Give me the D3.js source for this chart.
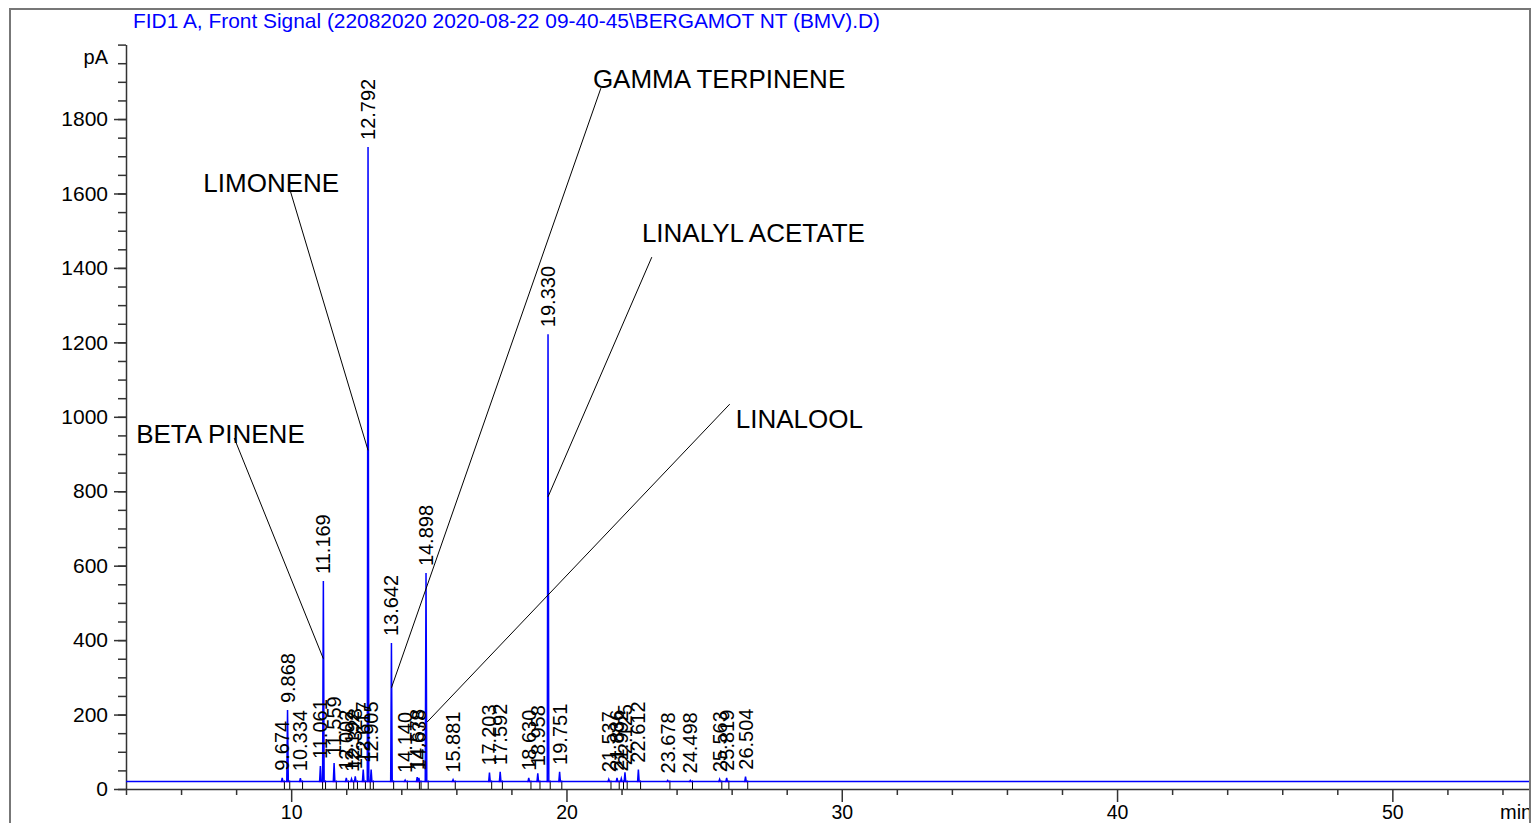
<!DOCTYPE html>
<html lang="en">

<head>
    <meta charset="UTF-8">
    <title>FID1 A, Front Signal</title>
    <style>
        body {
            margin: 0;
            background: #fff;
        }

        svg {
            font-family: "Liberation Sans", Arial, sans-serif;
        }

        .axis text {
            font-size: 21px;
            fill: #000;
        }

        .axis.xaxis text {
            font-size: 19.5px;
        }

        .axis path,
        .axis line {
            stroke: #333;
            stroke-width: 1.5px;
        }

        .trace {
            fill: none;
            stroke: #0000ff;
            stroke-width: 1.5px;
        }

        .peak-label {
            font-size: 20px;
        }

        .anno-text {
            font-size: 26px;
        }

        .anno-line {
            stroke: #000;
            stroke-width: 1px;
        }
    </style>
</head>

<body>
    <script src="https://d3js.org/d3.v7.min.js"></script>
    <script>
        // peak table (retention time in min, apex in pA)
        const peakTimes = [9.674, 9.868, 10.334, 11.061, 11.169, 11.559, 12.002, 12.192, 12.328, 12.617,
            12.792, 12.905, 13.642, 14.140, 14.578, 14.638, 14.898, 15.881, 17.203, 17.592,
            18.630, 18.958, 19.330, 19.751, 21.537, 21.836, 21.992, 22.125, 22.612, 23.678,
            24.498, 25.563, 25.819, 26.504];
        const peakHeights = [30, 212, 29, 62, 559, 70, 30, 27, 34, 52,
            1725, 52, 392, 24, 32, 30, 580, 25, 44, 46,
            30, 42, 1222, 46, 26, 30, 28, 45, 52, 23,
            23, 26, 30, 33];
        const baseline = 20;

        // compound annotations: label position and pointer end, in data units
        const annoNames = ["BETA PINENE", "LIMONENE", "GAMMA TERPINENE", "LINALYL ACETATE", "LINALOOL"];
        const annoTextAt = [[4.37, 930], [6.81, 1604], [20.96, 1883], [22.74, 1470], [26.15, 970]];
        const annoLineFrom = [[7.93, 943], [9.96, 1609], [21.25, 1883], [23.10, 1429], [25.93, 1034]];
        const annoLineTo = [[11.169, 350], [12.792, 910], [13.642, 272], [19.330, 785], [14.94, 180]];

        const xMajor = [10, 20, 30, 40, 50];
        const xMinor = d3.range(4, 55, 2).filter(v => v % 10 !== 0);
        const yMajor = d3.range(0, 1801, 200);
        const yMinor = d3.range(0, 2001, 50);

        const title = "FID1 A, Front Signal (22082020 2020-08-22 09-40-45\\BERGAMOT NT (BMV).D)";

        const width = 1531;
        const height = 823;
        const plotL = 126, plotR = 1530, plotT = 44.6, plotB = 789;

        const x = d3.scaleLinear().domain([4, 55]).range([plotL, plotR]);
        const y = d3.scaleLinear().domain([0, 2000]).range([plotB, plotT]);

        const svg = d3.select("body").append("svg")
            .attr("width", width)
            .attr("height", height);

        // axes
        svg.append("g")
            .attr("class", "axis")
            .attr("transform", `translate(${plotL},0)`)
            .call(d3.axisLeft(y).tickValues(yMinor).tickSize(8).tickSizeOuter(0).tickFormat(""));

        svg.append("g")
            .attr("class", "axis")
            .attr("transform", `translate(${plotL},0)`)
            .call(d3.axisLeft(y).tickValues(yMajor).tickSize(12).tickSizeOuter(0).tickPadding(6)
                .tickFormat(d3.format("d")))
            .call(g => g.select(".domain").remove());

        svg.append("g")
            .attr("class", "axis")
            .attr("transform", `translate(0,${plotB})`)
            .call(d3.axisBottom(x).tickValues(xMinor).tickSize(6).tickSizeOuter(0).tickFormat(""));

        svg.append("g")
            .attr("class", "axis xaxis")
            .attr("transform", `translate(0,${plotB})`)
            .call(d3.axisBottom(x).tickValues(xMajor).tickSize(13).tickSizeOuter(0).tickPadding(3)
                .tickFormat(d3.format("d")))
            .call(g => g.select(".domain").remove());

        svg.append("text")
            .attr("x", 108)
            .attr("y", 64)
            .attr("text-anchor", "end")
            .attr("font-size", 20)
            .text("pA");

        svg.append("text")
            .attr("x", 1500)
            .attr("y", 819)
            .attr("font-size", 20)
            .text("min");

        svg.append("text")
            .attr("x", 133)
            .attr("y", 28)
            .attr("font-size", 20.9)
            .attr("fill", "#0000ff")
            .text(title);

        // integration baselines and event ticks
        svg.append("g").selectAll("line")
            .data(peakTimes)
            .join("line")
            .attr("x1", t => x(t - 0.06))
            .attr("x2", t => x(t + 0.08))
            .attr("y1", y(baseline))
            .attr("y2", y(baseline))
            .attr("stroke", "#ff00ff")
            .attr("stroke-width", 1.5);

        svg.append("g").selectAll("line")
            .data(peakTimes)
            .join("line")
            .attr("x1", t => x(t + 0.08))
            .attr("x2", t => x(t + 0.08))
            .attr("y1", y(baseline) - 1)
            .attr("y2", y(0))
            .attr("stroke", "#000")
            .attr("stroke-width", 1);

        // signal trace built from the peak table
        const pts = [[4, baseline]];
        peakTimes.forEach((t, i) => {
            pts.push([t - 0.028, baseline], [t, peakHeights[i]], [t + 0.028, baseline]);
        });
        pts.push([55, baseline]);

        svg.append("path")
            .datum(pts)
            .attr("class", "trace")
            .attr("d", d3.line().x(d => x(d[0])).y(d => y(d[1])));

        // retention time labels
        svg.append("g").selectAll("text")
            .data(peakTimes)
            .join("text")
            .attr("class", "peak-label")
            .attr("transform", (t, i) => `translate(${x(t)},${y(peakHeights[i]) - 7}) rotate(-90)`)
            .attr("dy", "0.35em")
            .text(t => t.toFixed(3));

        // compound annotations
        const anno = svg.append("g");
        anno.selectAll("line")
            .data(annoNames)
            .join("line")
            .attr("class", "anno-line")
            .attr("x1", (d, i) => x(annoLineFrom[i][0]))
            .attr("y1", (d, i) => y(annoLineFrom[i][1]))
            .attr("x2", (d, i) => x(annoLineTo[i][0]))
            .attr("y2", (d, i) => y(annoLineTo[i][1]));

        anno.selectAll("text")
            .data(annoNames)
            .join("text")
            .attr("class", "anno-text")
            .attr("x", (d, i) => x(annoTextAt[i][0]))
            .attr("y", (d, i) => y(annoTextAt[i][1]))
            .text(d => d);

        // frame
        svg.append("rect")
            .attr("x", 10)
            .attr("y", 9)
            .attr("width", 1520)
            .attr("height", 840)
            .attr("fill", "none")
            .attr("stroke", "#777")
            .attr("stroke-width", 2);
    </script>
</body>

</html>
